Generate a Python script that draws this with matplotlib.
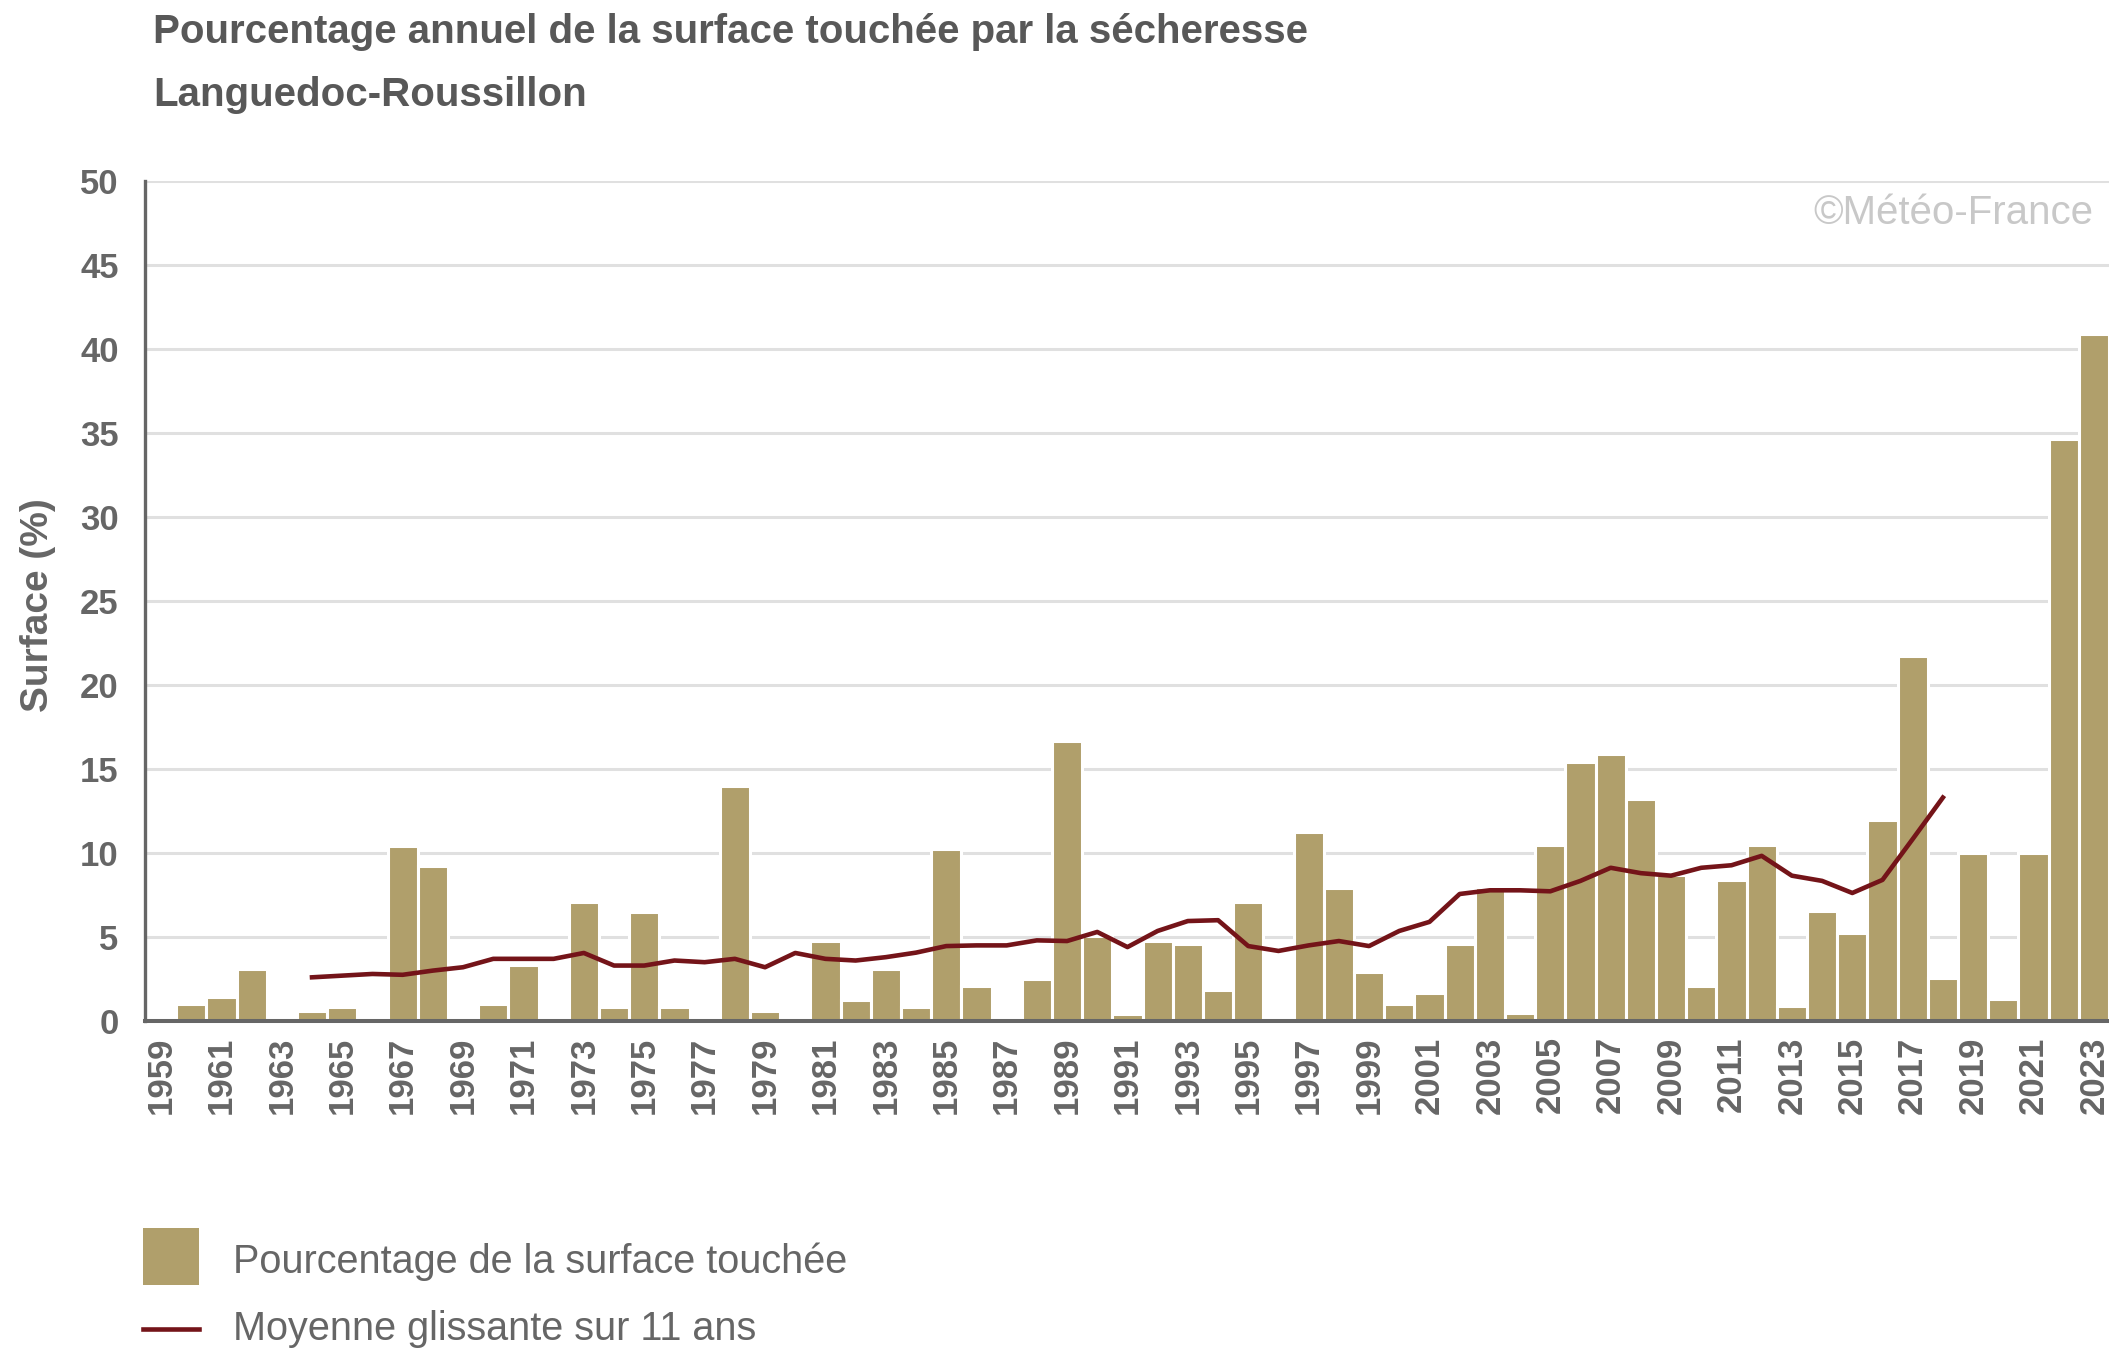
import matplotlib
matplotlib.use("Agg")
import matplotlib.pyplot as plt
from matplotlib.patches import Rectangle
from matplotlib.lines import Line2D

plt.rcParams['font.family'] = ['Liberation Sans', 'DejaVu Sans']

# annual share of the area hit by drought (%)
years = list(range(1959, 2024))
surface = [0.2, 1.0, 1.45, 3.1, 0, 0.6, 0.85, 0, 10.4, 9.2,
           0, 1.0, 3.35, 0, 7.1, 0.85, 6.5, 0.85, 0, 14.0,
           0.6, 0.2, 4.76, 1.25, 3.1, 0.85, 10.26, 2.1, 0, 2.5,
           16.67, 5.06, 0.42, 4.76, 4.58, 1.85, 7.08, 0, 11.25, 7.9,
           2.9, 1.0, 1.67, 4.6, 7.97, 0.5, 10.46, 15.44, 15.87, 13.2,
           8.7, 2.1, 8.37, 10.46, 0.87, 6.54, 5.23, 11.95, 21.7, 2.55,
           10.02, 1.28, 10.02, 34.67, 40.9]

# 11-year moving average, centred
ma_years = list(range(1964, 2019))
moyenne = [2.6, 2.7, 2.8, 2.75, 3.0, 3.2, 3.7, 3.7, 3.7, 4.05,
           3.3, 3.3, 3.6, 3.5, 3.7, 3.2, 4.05, 3.7, 3.6, 3.8,
           4.07, 4.46, 4.5, 4.5, 4.8, 4.76, 5.3, 4.4, 5.36, 5.95,
           6.0, 4.46, 4.17, 4.5, 4.76, 4.46, 5.36, 5.9, 7.56, 7.78,
           7.78, 7.72, 8.34, 9.12, 8.8, 8.65, 9.12, 9.27, 9.83, 8.65,
           8.34, 7.62, 8.4, 10.83, 13.3]

xticks = list(range(1959, 2024, 2))
yticks = list(range(0, 51, 5))
legend_labels = ["Pourcentage de la surface touchée", "Moyenne glissante sur 11 ans"]

bar_color = '#b09f6b'
line_color = '#741419'
grey = '#666666'

W, H = 2109, 1351
fig = plt.figure(figsize=(W / 100, H / 100), dpi=100)
ax = fig.add_axes([145 / W, 1 - 1021 / H, 1 - 145 / W, (1021 - 181) / H])

ax.bar(years, surface, width=1.0, color=bar_color, edgecolor='white',
       linewidth=2.2, zorder=2)
ax.plot(ma_years, moyenne, color=line_color, linewidth=3.3, zorder=3,
        solid_joinstyle='round')

ax.set_xlim(1958.47, 2023.5)
ax.set_ylim(0, 50)
ax.set_yticks(yticks)
ax.set_xticks(xticks)
ax.set_xticklabels([str(y) for y in xticks], rotation=90)
ax.tick_params(axis='both', length=0, colors=grey, labelsize=25)
ax.tick_params(axis='y', pad=19)
ax.tick_params(axis='x', pad=11)
for lab in ax.get_xticklabels() + ax.get_yticklabels():
    lab.set_fontweight('bold')

ax.grid(axis='y', color='#e0e0e0', linewidth=2.2, zorder=0)
ax.set_axisbelow(True)
for s in ['top', 'right']:
    ax.spines[s].set_visible(False)
ax.spines['left'].set_color(grey)
ax.spines['left'].set_linewidth(2.4)
ax.spines['bottom'].set_color(grey)
ax.spines['bottom'].set_linewidth(2.9)
ax.spines['left'].set_zorder(4)
ax.spines['bottom'].set_zorder(4)

fig.text(153 / W, 1 - 43 / H, "Pourcentage annuel de la surface touchée par la sécheresse",
         fontsize=29, fontweight='bold', color='#585858', va='baseline')
fig.text(153 / W, 1 - 106 / H, "Languedoc-Roussillon",
         fontsize=29, fontweight='bold', color='#585858', va='baseline')
fig.text(38 / W, 1 - 605 / H, "Surface (%)", rotation=90, fontsize=28,
         fontweight='bold', color=grey, ha='center', va='center')
fig.text(2093 / W, 1 - 213 / H, "©Météo-France", fontsize=29,
         color='#c8c8c8', ha='right', va='center')

# legend drawn by hand to match the original layout
fig.patches.append(Rectangle((143 / W, 1 - 1285 / H), 56 / W, 57 / H,
                             transform=fig.transFigure, facecolor=bar_color,
                             edgecolor='none'))
fig.lines.append(Line2D([143 / W, 199 / W], [1 - 1329 / H, 1 - 1329 / H],
                        transform=fig.transFigure, color=line_color, linewidth=3.3))
fig.text(233 / W, 1 - 1262 / H, legend_labels[0], fontsize=28.5, color=grey,
         va='center')
fig.text(233 / W, 1 - 1329 / H, legend_labels[1], fontsize=28.5, color=grey,
         va='center')

fig.savefig("out.png", dpi=100)
